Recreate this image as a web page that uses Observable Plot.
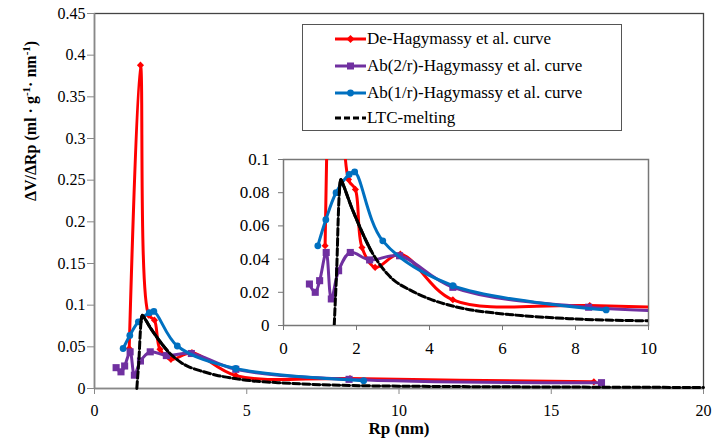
<!DOCTYPE html>
<html><head><meta charset="utf-8">
<script src="https://cdn.jsdelivr.net/npm/d3@7"></script>
<script src="https://cdn.jsdelivr.net/npm/@observablehq/plot@0.6"></script>
</head><body style="margin:0;background:#fff;">
<div id="wrap" style="position:relative;width:712px;height:443px;font-family:'Liberation Serif',serif;"><div id="legend" style="position:absolute;left:302px;top:24px;width:320px;height:107px;border:1.5px solid #555;box-sizing:border-box;background:#fff;"></div></div>
<script>
// ---- data ----
const seriesNames = ["De-Hagymassy et al. curve", "Ab(2/r)-Hagymassy et al. curve", "Ab(1/r)-Hagymassy et al. curve", "LTC-melting"];
const seriesColors = ["#FF0000", "#7030A0", "#0070C0", "#000000"];

const deX = [1.14, 1.51, 1.78, 1.97, 2.15, 2.51, 3.2, 4.64, 8.39, 16.4];
const deY = [0.048, 0.388, 0.088, 0.082, 0.047, 0.035, 0.043, 0.0155, 0.012, 0.008];

const ab2X = [0.71, 0.87, 0.99, 1.17, 1.31, 1.51, 1.83, 2.36, 3.18, 4.64, 8.36, 16.65];
const ab2Y = [0.025, 0.020, 0.027, 0.044, 0.016, 0.033, 0.044, 0.0395, 0.042, 0.023, 0.011, 0.007];

const ab1X = [0.94, 1.16, 1.44, 1.80, 1.95, 2.72, 4.64, 8.84];
const ab1Y = [0.048, 0.0637, 0.080, 0.091, 0.0925, 0.051, 0.024, 0.0094];

const ltcX = [1.39, 1.42, 1.46, 1.50, 1.53, 1.57, 1.65, 1.75, 1.85, 2.0, 2.2, 2.4, 2.6, 2.85, 3.1, 3.5, 4.0, 4.5, 5.1, 5.8, 6.5, 7.5, 8.5, 10, 12, 15, 20];
const ltcY = [0, 0.015, 0.035, 0.065, 0.080, 0.088, 0.084, 0.078, 0.072, 0.064, 0.054, 0.045, 0.038, 0.031, 0.026, 0.021, 0.016, 0.0125, 0.0095, 0.0075, 0.006, 0.0045, 0.0035, 0.0028, 0.0023, 0.0018, 0.0012];

const mainXTicks = [0, 5, 10, 15, 20];
const mainYTicks = [0, 0.05, 0.1, 0.15, 0.2, 0.25, 0.3, 0.35, 0.4, 0.45];
const insetXTicks = [0, 2, 4, 6, 8, 10];
const insetYTicks = [0, 0.02, 0.04, 0.06, 0.08, 0.1];
const xTitle = "Rp (nm)";
const yTitle = "ΔV/ΔRp (ml · g-1· nm-1)";

// ---- tables ----
const zip = (xs, ys) => xs.map((x, i) => ({x, y: ys[i]}));
const de = zip(deX, deY), ab2 = zip(ab2X, ab2Y), ab1 = zip(ab1X, ab1Y), ltc = zip(ltcX, ltcY);
const ltcPeak = ltc.filter(d => d.x >= 1.53 && d.x <= 2.4);

const serif = "'Liberation Serif', serif";
const fmt = d => String(+d.toFixed(2));

function seriesMarks(clip) {
  const c = {clip};
  return [
    Plot.line(de, {x: "x", y: "y", stroke: seriesColors[0], strokeWidth: 3, curve: "catmull-rom", ...c}),
    Plot.dot(de, {x: "x", y: "y", symbol: "diamond2", r: 3.2, fill: seriesColors[0], ...c}),
    Plot.line(ab2, {x: "x", y: "y", stroke: seriesColors[1], strokeWidth: 3, curve: "catmull-rom", ...c}),
    Plot.dot(ab2, {x: "x", y: "y", symbol: "square", r: 4, fill: seriesColors[1], ...c}),
    Plot.line(ab1, {x: "x", y: "y", stroke: seriesColors[2], strokeWidth: 3, curve: "catmull-rom", ...c}),
    Plot.dot(ab1, {x: "x", y: "y", symbol: "circle", r: 3.4, fill: seriesColors[2], ...c}),
    Plot.line(ltc, {x: "x", y: "y", stroke: seriesColors[3], strokeWidth: 3, strokeDasharray: "7,3", curve: "catmull-rom", ...c}),
    Plot.line(ltcPeak, {x: "x", y: "y", stroke: seriesColors[3], strokeWidth: 3, curve: "catmull-rom", ...c})
  ];
}

const main = Plot.plot({
  width: 712, height: 443,
  marginLeft: 94, marginRight: 9, marginTop: 13, marginBottom: 55,
  style: {fontFamily: serif, fontSize: "16px", color: "#000", background: "transparent", overflow: "visible"},
  x: {domain: [0, 20]},
  y: {domain: [0, 0.45]},
  marks: [
    Plot.frame({stroke: "#444", strokeWidth: 1.3}),
    Plot.ruleX([0], {stroke: "#888", strokeWidth: 1.5}),
    Plot.ruleY([0], {stroke: "#888", strokeWidth: 1.5}),
    Plot.axisX({ticks: mainXTicks, tickSize: 6, tickPadding: 10, stroke: "#888", tickFormat: fmt, label: null, fontSize: 16}),
    Plot.axisY({ticks: mainYTicks, tickSize: 7, tickPadding: 2, stroke: "#888", tickFormat: fmt, label: null, fontSize: 16}),
    Plot.text([xTitle], {frameAnchor: "bottom", dy: 45, fontWeight: "bold", fontSize: 17}),
    Plot.text([yTitle], {frameAnchor: "left", dx: -64, rotate: -90, fontWeight: "bold", fontSize: 16}),
    ...seriesMarks(false)
  ]
});

const inset = Plot.plot({
  width: 430, height: 208,
  marginLeft: 53, marginRight: 12, marginTop: 9, marginBottom: 33,
  style: {fontFamily: serif, fontSize: "17px", color: "#000", background: "transparent", overflow: "visible"},
  x: {domain: [0, 10]},
  y: {domain: [0, 0.1]},
  marks: [
    Plot.frame({stroke: "#777", strokeWidth: 1.5}),
    Plot.axisX({ticks: insetXTicks, tickSize: 5, tickPadding: 11, stroke: "#777", tickFormat: fmt, label: null, fontSize: 17}),
    Plot.axisY({ticks: insetYTicks, tickSize: 5, tickPadding: 9, stroke: "#777", tickFormat: fmt, label: null, fontSize: 17}),
    ...seriesMarks(true)
  ]
});
inset.style.position = "absolute";
inset.style.left = "230px";
inset.style.top = "150px";

const wrap = document.getElementById("wrap");
wrap.insertBefore(main, wrap.firstChild);
wrap.appendChild(inset);

// superscripts in the y title
d3.select(main).selectAll("text").filter(function() { return this.textContent === yTitle; }).each(function() {
  const t = d3.select(this);
  t.text(null);
  t.append("tspan").text("ΔV/ΔRp (ml · g");
  t.append("tspan").attr("dy", -6).attr("font-size", 11).text("-1");
  t.append("tspan").attr("dy", 6).text("· nm");
  t.append("tspan").attr("dy", -6).attr("font-size", 11).text("-1");
  t.append("tspan").attr("dy", 6).text(")");
});

// legend
const legend = d3.select("#legend");
const rowTops = [4, 31, 58, 83];
seriesNames.forEach((name, i) => {
  const row = legend.append("div")
    .style("position", "absolute").style("left", "0px").style("top", rowTops[i] + "px")
    .style("height", "20px").style("width", "100%");
  const s = row.append("svg").attr("width", 32).attr("height", 10)
    .style("position", "absolute").style("left", "32px").style("top", "5px");
  s.append("line").attr("x1", 0).attr("x2", 31).attr("y1", 5).attr("y2", 5)
    .attr("stroke", seriesColors[i]).attr("stroke-width", 3)
    .attr("stroke-dasharray", i === 3 ? "6,3" : null);
  if (i === 0) s.append("path").attr("d", "M15.5,1L19.5,5L15.5,9L11.5,5Z").attr("fill", seriesColors[i]);
  if (i === 1) s.append("rect").attr("x", 12).attr("y", 1.5).attr("width", 7).attr("height", 7).attr("fill", seriesColors[i]);
  if (i === 2) s.append("circle").attr("cx", 15.5).attr("cy", 5).attr("r", 3.4).attr("fill", seriesColors[i]);
  row.append("span").text(name)
    .style("position", "absolute").style("left", "64px").style("top", "0px")
    .style("font-size", "17px").style("line-height", "20px").style("color", "#000")
    .style("white-space", "nowrap").style("font-family", serif);
});
</script>
</body></html>
